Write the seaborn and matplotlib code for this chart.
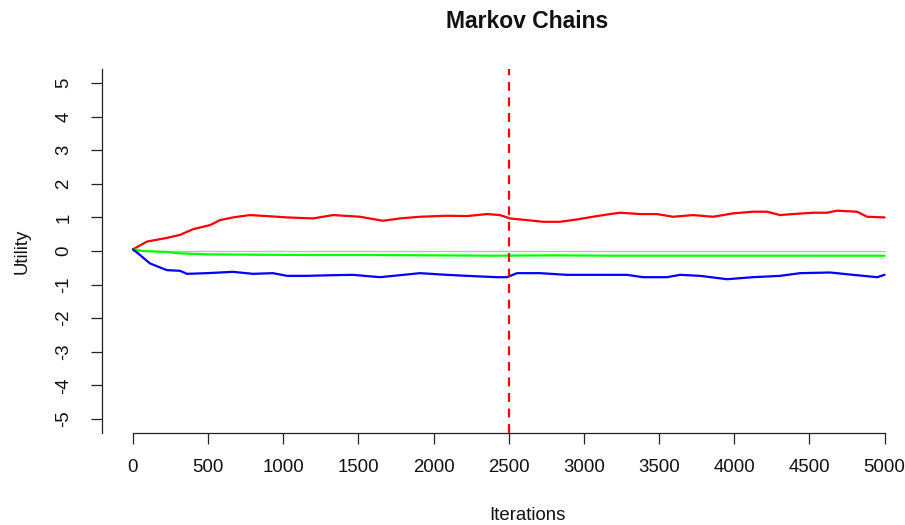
import matplotlib
matplotlib.use("Agg")
import matplotlib.pyplot as plt
import seaborn as sns
import pandas as pd

# ---- data ----
red_iter = [0, 93, 226, 313, 400, 512, 579, 665, 778, 890, 1025, 1198, 1331, 1510, 1663,
            1776, 1909, 2089, 2222, 2355, 2442, 2508, 2621, 2728, 2841, 2954, 3060, 3174,
            3240, 3373, 3486, 3593, 3726, 3859, 3992, 4125, 4218, 4305, 4391, 4524, 4618,
            4684, 4817, 4884, 5000]
red_val = [0.05, 0.28, 0.39, 0.48, 0.65, 0.77, 0.92, 1.00, 1.07, 1.04, 1.00, 0.97, 1.07,
           1.02, 0.90, 0.97, 1.02, 1.05, 1.04, 1.10, 1.07, 0.97, 0.92, 0.87, 0.87, 0.94,
           1.02, 1.10, 1.14, 1.10, 1.10, 1.02, 1.07, 1.02, 1.12, 1.17, 1.17, 1.07, 1.10,
           1.14, 1.14, 1.20, 1.17, 1.02, 1.00]

green_iter = [0, 67, 226, 313, 492, 800, 1200, 1600, 2000, 2400, 2800, 3200, 3600, 4000,
              4400, 4800, 5000]
green_val = [0.05, 0.00, -0.03, -0.07, -0.10, -0.11, -0.12, -0.12, -0.13, -0.14, -0.13,
             -0.14, -0.14, -0.14, -0.14, -0.14, -0.14]

blue_iter = [0, 47, 113, 180, 226, 313, 359, 492, 665, 798, 931, 1025, 1158, 1331, 1464,
             1643, 1776, 1909, 2089, 2222, 2422, 2488, 2555, 2708, 2888, 3060, 3287, 3393,
             3553, 3640, 3773, 3952, 4125, 4305, 4438, 4638, 4791, 4951, 5000]
blue_val = [0.05, -0.12, -0.37, -0.49, -0.57, -0.59, -0.68, -0.66, -0.62, -0.68, -0.66,
            -0.74, -0.74, -0.72, -0.71, -0.78, -0.72, -0.66, -0.71, -0.74, -0.78, -0.78,
            -0.66, -0.66, -0.71, -0.71, -0.71, -0.78, -0.78, -0.71, -0.74, -0.84, -0.78,
            -0.74, -0.66, -0.64, -0.71, -0.78, -0.71]

baseline_iter = [0, 5000]
baseline_val = [0, 0]
burn_in = 2500

x_ticks = [0, 500, 1000, 1500, 2000, 2500, 3000, 3500, 4000, 4500, 5000]
y_ticks = [-5, -4, -3, -2, -1, 0, 1, 2, 3, 4, 5]

# ---- style ----
sns.set_style("ticks")
plt.rcParams["font.family"] = ["Liberation Sans", "DejaVu Sans"]

W, H = 905, 525
fig = plt.figure(figsize=(W / 100, H / 100), dpi=100)
left_px, right_px, top_px, bot_px = 101.7, 914.6, 69, 433
ax = fig.add_axes([left_px / W, 1 - bot_px / H, (right_px - left_px) / W, (bot_px - top_px) / H])
ax.set_facecolor("white")
fig.patch.set_facecolor("white")

sns.lineplot(x=baseline_iter, y=baseline_val, ax=ax, color="#BEBEBE", linewidth=1.0)
sns.lineplot(x=red_iter, y=red_val, ax=ax, color="#FF0000", linewidth=1.6)
sns.lineplot(x=green_iter, y=green_val, ax=ax, color="#00FF00", linewidth=1.6)
sns.lineplot(x=blue_iter, y=blue_val, ax=ax, color="#0000FF", linewidth=1.6)
ax.axvline(burn_in, color="#FF0000", linestyle=(0, (4, 3)), linewidth=1.6)

ax.set_xlim(-208, 5200)
ax.set_ylim(-5.42, 5.42)
ax.set_xticks(x_ticks)
ax.set_xticklabels([str(v) for v in x_ticks])
ax.set_yticks(y_ticks)
ax.set_yticklabels([str(v) for v in y_ticks], rotation=90, va="center")

for s in ["top", "right"]:
    ax.spines[s].set_visible(False)
ax.spines["bottom"].set_bounds(0, 5000)
for s in ["bottom", "left"]:
    ax.spines[s].set_linewidth(0.9)
    ax.spines[s].set_color("#222222")

ax.tick_params(axis="both", direction="out", length=8, width=0.9, color="#222222",
               labelsize=13.4, labelcolor="#111111")
ax.tick_params(axis="x", pad=11)
ax.tick_params(axis="y", pad=13)
ax.set_xlabel("")
ax.set_ylabel("")

fig.text(527 / W, 1 - 22 / H, "Markov Chains", ha="center", va="center",
         fontsize=16.5, fontweight="bold", color="#111111")
fig.text(527 / W, 1 - 515 / H, "Iterations", ha="center", va="center",
         fontsize=13.4, color="#111111")
fig.text(22 / W, 1 - 251 / H, "Utility", ha="center", va="center", rotation=90,
         fontsize=13.4, color="#111111")

fig.savefig("out.png", dpi=100)
